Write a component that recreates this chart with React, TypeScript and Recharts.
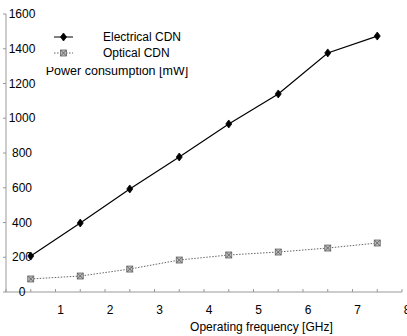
import React from "react";
import { LineChart, Line, XAxis, YAxis, Legend } from "recharts";

const frequencies = [0.5, 1.5, 2.5, 3.5, 4.5, 5.5, 6.5, 7.5];
const electricalCDN = [207, 397, 593, 777, 967, 1140, 1376, 1473];
const opticalCDN = [75, 92, 132, 184, 213, 230, 253, 282];
const xTicks = [0, 0.5, 1, 1.5, 2, 2.5, 3, 3.5, 4, 4.5, 5, 5.5, 6, 6.5, 7, 7.5, 8];
const xTickLabels = ["", "", "1", "", "2", "", "3", "", "4", "", "5", "", "6", "", "7", "", "8"];
const yTicks = [0, 200, 400, 600, 800, 1000, 1200, 1400, 1600];

const data = frequencies.map((f, i) => ({
  f,
  electrical: electricalCDN[i],
  optical: opticalCDN[i],
}));

const FONT = "'Liberation Sans', Arial, sans-serif";
const AXIS = "#999";

const Diamond = (props: any) => {
  const { cx, cy } = props;
  if (cx == null || cy == null) return null;
  return <path d={`M${cx},${cy - 4} L${cx + 3},${cy} L${cx},${cy + 4} L${cx - 3},${cy} Z`} fill="#000" stroke="#000" strokeWidth={0.8} />;
};

const HatchSquare = (props: any) => {
  const { cx, cy } = props;
  if (cx == null || cy == null) return null;
  return (
    <g>
      <rect x={cx - 3} y={cy - 3} width={6} height={6} fill="#bbb" stroke="#666" strokeWidth={0.8} />
      <path d={`M${cx - 3},${cy - 3} L${cx + 3},${cy + 3} M${cx + 3},${cy - 3} L${cx - 3},${cy + 3}`} stroke="#555" strokeWidth={0.8} />
    </g>
  );
};

const XTick = (props: any) => {
  const { x, y, index } = props;
  const label = xTickLabels[index] ?? "";
  return (
    <g>
      <line x1={x} y1={y} x2={x} y2={y - 3} stroke={AXIS} strokeWidth={1} />
      {label && (
        <text x={x + 5} y={y + 18} textAnchor="middle" dominantBaseline="central" fontSize={12} fontFamily={FONT} fill="#000">
          {label}
        </text>
      )}
    </g>
  );
};

const YTick = (props: any) => {
  const { x, y, payload } = props;
  return (
    <g>
      <line x1={x - 3} y1={y} x2={x} y2={y} stroke={AXIS} strokeWidth={1} />
      <text x={x + 16} y={y} textAnchor="middle" dominantBaseline="central" fontSize={12} fontFamily={FONT} fill="#000">
        {payload.value}
      </text>
    </g>
  );
};

const LegendContent = () => {
  const rows = [
    { name: "Electrical CDN", dash: undefined as any, Marker: Diamond, color: "#000" },
    { name: "Optical CDN", dash: "1.5 1.5", Marker: HatchSquare, color: "#666" },
  ];
  return (
    <div style={{ background: "#fff", paddingTop: 2, paddingBottom: 6 }}>
      {rows.map((r) => (
        <svg key={r.name} width={150} height={16} style={{ display: "block" }}>
          <line x1={10} y1={8} x2={29} y2={8} stroke={r.color} strokeWidth={1} strokeDasharray={r.dash} />
          <r.Marker cx={19.5} cy={8} />
          <text x={59} y={8} dominantBaseline="central" fontSize={12} fontFamily={FONT} fill="#000">
            {r.name}
          </text>
        </svg>
      ))}
    </div>
  );
};

export default function App() {
  return (
    <div style={{ position: "absolute", left: 0, top: 0, background: "#fff" }}>
      <LineChart width={407} height={336} data={data} margin={{ top: 14, right: 5, left: 3, bottom: 0 }}>
        <XAxis
          dataKey="f"
          type="number"
          domain={[0, 8]}
          ticks={xTicks}
          interval={0}
          height={44}
          stroke={AXIS}
          tickLine={false}
          tickSize={0}
          tickMargin={0}
          tick={<XTick />}
          label={{
            content: (p: any) => {
              const vb = p.viewBox || { x: 6, y: 292, width: 396 };
              return (
                <text x={vb.x + vb.width * 0.645} y={vb.y + 35} textAnchor="middle" dominantBaseline="central" fontSize={12} fontFamily={FONT} fill="#000">
                  Operating frequency [GHz]
                </text>
              );
            },
          }}
        />
        <YAxis
          type="number"
          domain={[0, 1600]}
          ticks={yTicks}
          interval={0}
          width={3}
          stroke={AXIS}
          tickSize={0}
          tickMargin={0}
          tickLine={false}
          tick={<YTick />}
          label={{
            content: (p: any) => {
              const vb = p.viewBox || { x: 3, y: 14 };
              return (
                <text x={vb.x + 114} y={vb.y + 57} textAnchor="middle" dominantBaseline="central" fontSize={12.5} fontFamily={FONT} fill="#000">
                  Power consumption [mW]
                </text>
              );
            },
          }}
        />
        <Legend
          layout="vertical"
          align="center"
          verticalAlign="middle"
          content={<LegendContent />}
          wrapperStyle={{ position: "absolute", top: 27, left: 44, width: 150 }}
        />
        <Line
          dataKey="electrical"
          name="Electrical CDN"
          stroke="#000"
          strokeWidth={1.2}
          dot={<Diamond />}
          isAnimationActive={false}
        />
        <Line
          dataKey="optical"
          name="Optical CDN"
          stroke="#666"
          strokeWidth={1}
          strokeDasharray="1.5 1.5"
          dot={<HatchSquare />}
          isAnimationActive={false}
        />
      </LineChart>
    </div>
  );
}
